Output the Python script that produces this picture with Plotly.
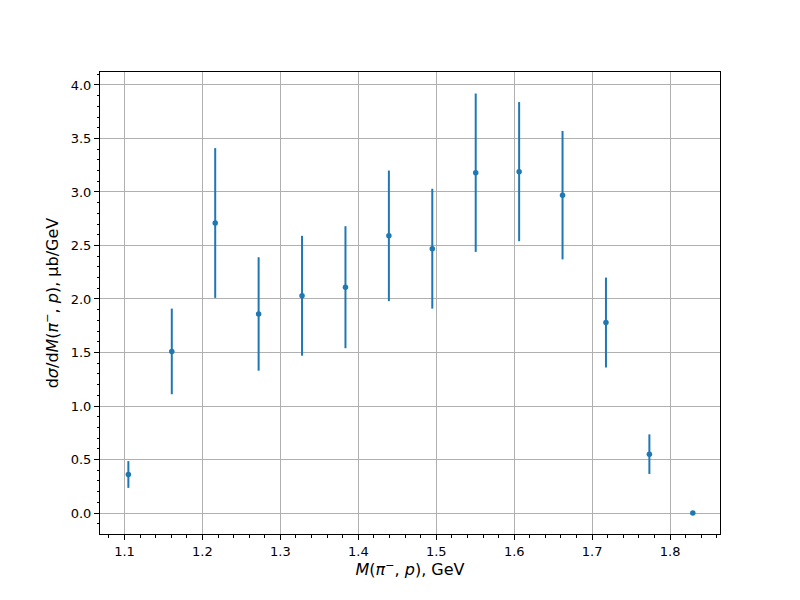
import plotly.graph_objects as go

mass = [1.105, 1.1607, 1.2164, 1.2721, 1.3278, 1.3835, 1.4392, 1.4949, 1.5506, 1.6063, 1.662, 1.7177, 1.7734, 1.8291]
xsec = [0.36, 1.51, 2.71, 1.86, 2.03, 2.11, 2.59, 2.47, 3.18, 3.19, 2.97, 1.78, 0.55, 0.0]
err = [0.125, 0.40, 0.70, 0.53, 0.56, 0.57, 0.61, 0.56, 0.74, 0.65, 0.60, 0.42, 0.185, 0.0]

color = "#1f77b4"
fig = go.Figure()
fig.add_trace(go.Scatter(
    x=mass, y=xsec, mode="markers",
    marker=dict(color=color, size=5.5),
    error_y=dict(type="data", array=err, visible=True, thickness=2, width=0, color=color),
    showlegend=False,
))

axis_common = dict(
    showline=True, mirror=True, linecolor="black", linewidth=1,
    ticks="outside", ticklen=5, tickwidth=1, tickcolor="black",
    showgrid=True, gridcolor="#b0b0b0", gridwidth=1, zeroline=False,
    tickfont=dict(family="DejaVu Sans", size=13, color="black"),
)

fig.update_layout(
    width=800, height=600,
    paper_bgcolor="white", plot_bgcolor="white",
    margin=dict(l=92, r=88, t=64, b=74),
    font=dict(family="DejaVu Sans", size=13, color="black"),
    xaxis=dict(
        range=[1.0686, 1.864], dtick=0.1, tick0=1.1, tickformat=".1f",
        minor=dict(dtick=0.02, ticks="outside", ticklen=2.5, tickcolor="black", showgrid=False),
        title=dict(text="<i>M</i>(<i>π</i><sup>−</sup>, <i>p</i>), GeV", standoff=6),
        **axis_common,
    ),
    yaxis=dict(
        range=[-0.196, 4.121], dtick=0.5, tick0=0, tickformat=".1f",
        minor=dict(dtick=0.1, ticks="outside", ticklen=2.5, tickcolor="black", showgrid=False),
        title=dict(text="d<i>σ</i>/d<i>M</i>(<i>π</i><sup>−</sup>, <i>p</i>), μb/GeV", standoff=8),
        **axis_common,
    ),
)

fig.write_html("out.html")
